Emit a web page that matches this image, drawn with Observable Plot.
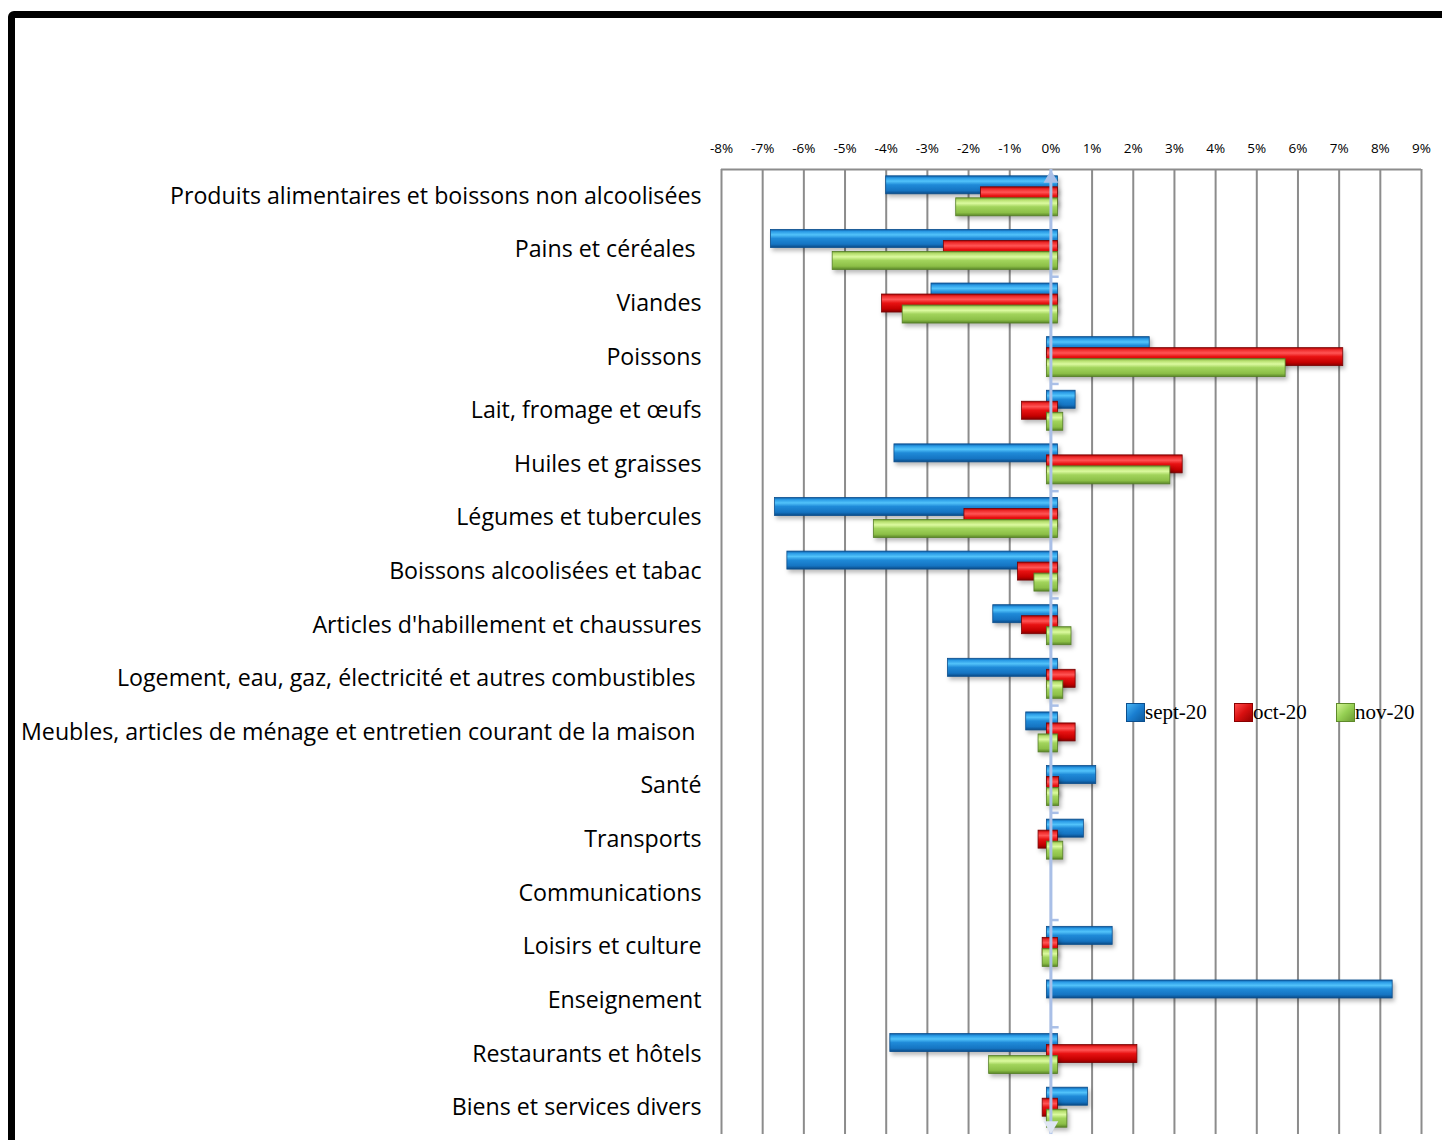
<!DOCTYPE html>
<html>
<head>
<meta charset="utf-8">
<script src="https://cdn.jsdelivr.net/npm/d3@7"></script>
<script src="https://cdn.jsdelivr.net/npm/@observablehq/plot@0.6"></script>
<style>
  html, body { margin: 0; padding: 0; background: #fff; overflow: hidden; width: 1442px; height: 1140px; }
  #wrap { position: relative; width: 1442px; height: 1140px; }
  #chart { position: absolute; left: 0; top: 0; width: 1442px; height: 1140px; }
  #chart > svg { display: block; }
  #frame { position: absolute; left: 8px; top: 11px; width: 1500px; height: 1200px; border: 7px solid #000; border-radius: 6px; pointer-events: none; }
  #chart svg text { white-space: pre; }
  #chart g[aria-label="bar"] { filter: drop-shadow(2px 3px 2px rgba(0,0,0,0.28)); }
  .item { position: absolute; top: 700px; display: flex; align-items: center; font-family: "Liberation Serif", "Times New Roman", serif; font-size: 21px; color: #000; }
  .sw { width: 19px; height: 19px; box-sizing: border-box; }
  .sw.b { background: linear-gradient(135deg, #49b5f3, #1a7fd1 50%, #0d5a9e); border: 1px solid #0b4f8e; }
  .sw.r { background: linear-gradient(135deg, #ff4a4a, #d81010 50%, #950000); border: 1px solid #8a0000; }
  .sw.g { background: linear-gradient(135deg, #d2f493, #95cf53 50%, #6c9c33); border: 1px solid #5e8a2a; }
</style>
</head>
<body>
<svg width="0" height="0" style="position:absolute">
  <defs>
    <linearGradient id="gBlue" x1="0" y1="0" x2="0" y2="1">
      <stop offset="0" stop-color="#0c5aa2"/>
      <stop offset="0.12" stop-color="#2a9be6"/>
      <stop offset="0.3" stop-color="#52c3fa"/>
      <stop offset="0.5" stop-color="#1f8ad8"/>
      <stop offset="0.82" stop-color="#1574c2"/>
      <stop offset="1" stop-color="#0a4a86"/>
    </linearGradient>
    <linearGradient id="gRed" x1="0" y1="0" x2="0" y2="1">
      <stop offset="0" stop-color="#a80000"/>
      <stop offset="0.12" stop-color="#ee2a2a"/>
      <stop offset="0.3" stop-color="#ff5555"/>
      <stop offset="0.5" stop-color="#e81212"/>
      <stop offset="0.82" stop-color="#c40000"/>
      <stop offset="1" stop-color="#850000"/>
    </linearGradient>
    <linearGradient id="gGreen" x1="0" y1="0" x2="0" y2="1">
      <stop offset="0" stop-color="#729f38"/>
      <stop offset="0.12" stop-color="#b6df6e"/>
      <stop offset="0.3" stop-color="#dcfaa0"/>
      <stop offset="0.5" stop-color="#a2d45c"/>
      <stop offset="0.82" stop-color="#8cbf47"/>
      <stop offset="1" stop-color="#5a8628"/>
    </linearGradient>
  </defs>
</svg>
<div id="wrap">
  <div id="chart"></div>
  <div id="legend"></div>
  <div id="frame"></div>
</div>
<script>
// ---- data ----
const categories = [
  "Produits alimentaires et boissons non alcoolisées",
  "Pains et céréales ",
  "Viandes",
  "Poissons",
  "Lait, fromage et œufs",
  "Huiles et graisses",
  "Légumes et tubercules",
  "Boissons alcoolisées et tabac",
  "Articles d'habillement et chaussures",
  "Logement, eau, gaz, électricité et autres combustibles ",
  "Meubles, articles de ménage et entretien courant de la maison ",
  "Santé",
  "Transports",
  "Communications",
  "Loisirs et culture",
  "Enseignement",
  "Restaurants et hôtels",
  "Biens et services divers"
];
const seriesNames = ["sept-20", "oct-20", "nov-20"];
const sept20 = [-4.0, -6.8, -2.9, 2.4, 0.6, -3.8, -6.7, -6.4, -1.4, -2.5, -0.6, 1.1, 0.8, null, 1.5, 8.3, -3.9, 0.9];
const oct20  = [-1.7, -2.6, -4.1, 7.1, -0.7, 3.2, -2.1, -0.8, -0.7, 0.6, 0.6, 0.2, -0.3, null, -0.2, 0, 2.1, -0.2];
const nov20  = [-2.3, -5.3, -3.6, 5.7, 0.3, 2.9, -4.3, -0.4, 0.5, 0.3, -0.3, 0.2, 0.3, null, -0.2, 0, -1.5, 0.4];
const xTicks = [-8, -7, -6, -5, -4, -3, -2, -1, 0, 1, 2, 3, 4, 5, 6, 7, 8, 9];

// ---- layout ----
const W = 1442, H = 1140;
const mL = 721, mR = 21, mT = 169, mB = 6;
const band = (H - mT - mB) / categories.length;
const barH = 18, step = 11;
const inset = (band - barH) / 2;

const fills = ["url(#gBlue)", "url(#gRed)", "url(#gGreen)"];
const strokes = ["#0b4f8e", "#7a0000", "#557f26"];
const seriesVals = [sept20, oct20, nov20];

const rows = seriesVals.map(vals => categories.map((c, i) => ({cat: c, v: vals[i]})));

const barMarks = [];
rows.forEach((data, s) => {
  const common = {
    y: "cat", x1: "v", x2: () => 0,
    fill: fills[s], stroke: strokes[s], strokeWidth: 0.8,
    insetTop: inset, insetBottom: inset, dy: (s - 1) * step
  };
  barMarks.push(Plot.barX(data.filter(d => d.v != null && d.v < 0), {...common, insetRight: -7}));
  barMarks.push(Plot.barX(data.filter(d => d.v != null && d.v > 0), {...common, insetLeft: -4}));
});

const axisColor = "#a9bfe7";

const plot = Plot.plot({
  width: W, height: H,
  marginLeft: mL, marginRight: mR, marginTop: mT, marginBottom: mB,
  style: {fontFamily: "'Open Sans', Lato, sans-serif", background: "transparent", overflow: "visible"},
  x: {domain: [-8, 9], axis: null},
  y: {domain: categories, axis: null, padding: 0, round: false},
  marks: [
    Plot.ruleX(xTicks, {x: d => d, stroke: "#8c8c8c", strokeWidth: 2}),
    Plot.ruleY([categories[0]], {y: d => d, dy: -band / 2, stroke: "#8c8c8c", strokeWidth: 2}),
    Plot.text(xTicks, {x: d => d, frameAnchor: "top", lineAnchor: "middle", dy: -21, text: d => d + "%", fontSize: 13.5, fill: "#000"}),
    Plot.text(categories, {y: d => d, frameAnchor: "left", dx: -20, textAnchor: "end", text: d => d, fontSize: 23.2, fill: "#000"}),
    ...barMarks,
    Plot.ruleX([0], {x: d => d, stroke: axisColor, strokeWidth: 3}),
    Plot.ruleY(categories.filter((d, i) => i > 0 && i % 2 === 0), {y: d => d, dy: -band / 2, x1: 0, x2: 0.2, stroke: axisColor, strokeWidth: 2.5}),
    Plot.dot([0], {x: d => d, frameAnchor: "top", dy: 9, symbol: "triangle", r: 5.5, fill: axisColor, stroke: null}),
    Plot.dot([0], {x: d => d, frameAnchor: "bottom", dy: -9, symbol: "triangle", rotate: 180, r: 5.5, fill: "#dfe6f3", stroke: null})
  ]
});
document.getElementById("chart").appendChild(plot);

// ---- legend ----
const legend = document.getElementById("legend");
const swCls = ["b", "r", "g"];
const legendLeft = [1126, 1234, 1336];
seriesNames.forEach((name, i) => {
  const it = document.createElement("div");
  it.className = "item";
  it.style.left = legendLeft[i] + "px";
  const sw = document.createElement("div");
  sw.className = "sw " + swCls[i];
  const t = document.createElement("span");
  t.textContent = name;
  it.appendChild(sw); it.appendChild(t);
  legend.appendChild(it);
});
</script>
</body>
</html>
